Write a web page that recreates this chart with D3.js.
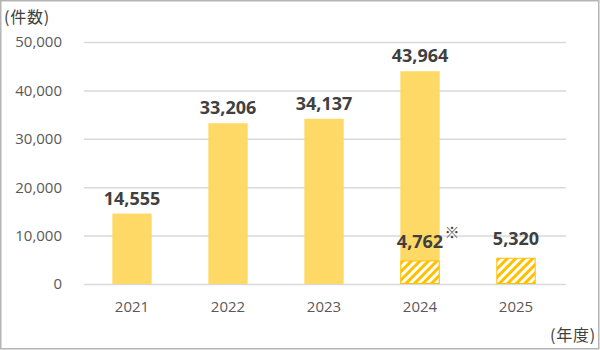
<!DOCTYPE html>
<html><head><meta charset="utf-8">
<script src="https://cdn.jsdelivr.net/npm/d3@7"></script>
<style>body{margin:0;background:#fff}svg{display:block}</style>
</head><body>
<svg id="c" width="600" height="350"></svg>
<script>
const years = ["2021","2022","2023","2024","2025"];
const totals = [14555, 33206, 34137, 43964, null];
const partial = [null, null, null, 4762, 5320];
const partialNote = [null, null, null, "※", null];
const yTicks = [0, 10000, 20000, 30000, 40000, 50000];
const yUnit = "(件数)";
const xUnit = "(年度)";

const svg = d3.select("#c");
const font = "'Open Sans', 'Noto Sans CJK JP', sans-serif";
const L = 84, R = 564, T = 42, B = 284;

svg.append("rect").attr("x",0.75).attr("y",0.75).attr("width",598).attr("height",348)
  .attr("fill","#fff").attr("stroke","#b5b5b5").attr("stroke-width",1.5);

const defs = svg.append("defs");
const pat = defs.append("pattern").attr("id","hatch").attr("patternUnits","userSpaceOnUse")
  .attr("width",6).attr("height",6).attr("patternTransform","rotate(45)");
pat.append("rect").attr("width",6).attr("height",6).attr("fill","#fff");
pat.append("rect").attr("width",3).attr("height",6).attr("fill","#FFC000");

const x = d3.scaleBand().domain(years).range([L, R]).paddingInner(0.59).paddingOuter(0.295);
const y = d3.scaleLinear().domain([0, 50000]).range([B, T]);

// gridlines + y axis
const ya = svg.append("g").attr("transform",`translate(${L},0)`)
  .call(d3.axisLeft(y).tickValues(yTicks).tickSize(-(R + 2 - L)).tickPadding(22)
    .tickFormat(d3.format(",")));
ya.select(".domain").remove();
ya.selectAll(".tick line").attr("stroke","#d9d9d9").attr("stroke-width",1.5);
ya.selectAll(".tick text").attr("fill","#595959").attr("font-size",15).attr("font-family",font);

// x axis labels
const xa = svg.append("g").attr("transform",`translate(0,${B})`)
  .call(d3.axisBottom(x).tickSize(0).tickPadding(17));
xa.select(".domain").remove();
xa.selectAll(".tick text").attr("fill","#595959").attr("font-size",15).attr("font-family",font);

const data = years.map((yr,i)=>({yr, total: totals[i], part: partial[i], note: partialNote[i]}));

// solid bars
svg.selectAll(".bar").data(data.filter(d=>d.total!=null)).join("rect")
  .attr("x",d=>x(d.yr)).attr("width",x.bandwidth())
  .attr("y",d=>y(d.total)).attr("height",d=>y(0)-y(d.total))
  .attr("fill","#FFD966");

// hatched bars
svg.selectAll(".hb").data(data.filter(d=>d.part!=null)).join("rect")
  .attr("x",d=>x(d.yr)+0.5).attr("width",x.bandwidth()-1)
  .attr("y",d=>y(d.part)).attr("height",d=>y(0)-y(d.part)-0.5)
  .attr("fill","url(#hatch)").attr("stroke","#FFC000").attr("stroke-width",1);

const lab = (sel)=>sel.attr("text-anchor","middle").attr("font-family",font)
  .attr("font-weight","bold").attr("font-size",18).attr("fill","#404040");

svg.selectAll(".tl").data(data.filter(d=>d.total!=null)).join("text")
  .call(lab).attr("x",d=>x(d.yr)+x.bandwidth()/2).attr("y",d=>y(d.total)-9)
  .text(d=>d3.format(",")(d.total));

svg.selectAll(".pl").data(data.filter(d=>d.part!=null)).join("text")
  .call(lab).attr("x",d=>x(d.yr)+x.bandwidth()/2).attr("y",d=>y(d.part)-13)
  .text(d=>d3.format(",")(d.part));

svg.selectAll(".nt").data(data.filter(d=>d.note)).join("text")
  .attr("x",d=>x(d.yr)+x.bandwidth()/2+32).attr("y",d=>y(d.part)-23)
  .attr("text-anchor","middle").attr("font-size",15).attr("font-weight","bold").attr("fill","#404040")
  .attr("font-family","'Noto Sans CJK JP', sans-serif").text(d=>d.note);

svg.append("text").attr("x",4).attr("y",23).attr("font-size",16).attr("letter-spacing",0.8).attr("fill","#404040")
  .attr("font-family","'Noto Sans CJK JP', sans-serif").text(yUnit);
svg.append("text").attr("x",596).attr("y",341).attr("text-anchor","end").attr("font-size",16).attr("letter-spacing",0.8).attr("fill","#404040")
  .attr("font-family","'Noto Sans CJK JP', sans-serif").text(xUnit);
</script>
</body></html>
